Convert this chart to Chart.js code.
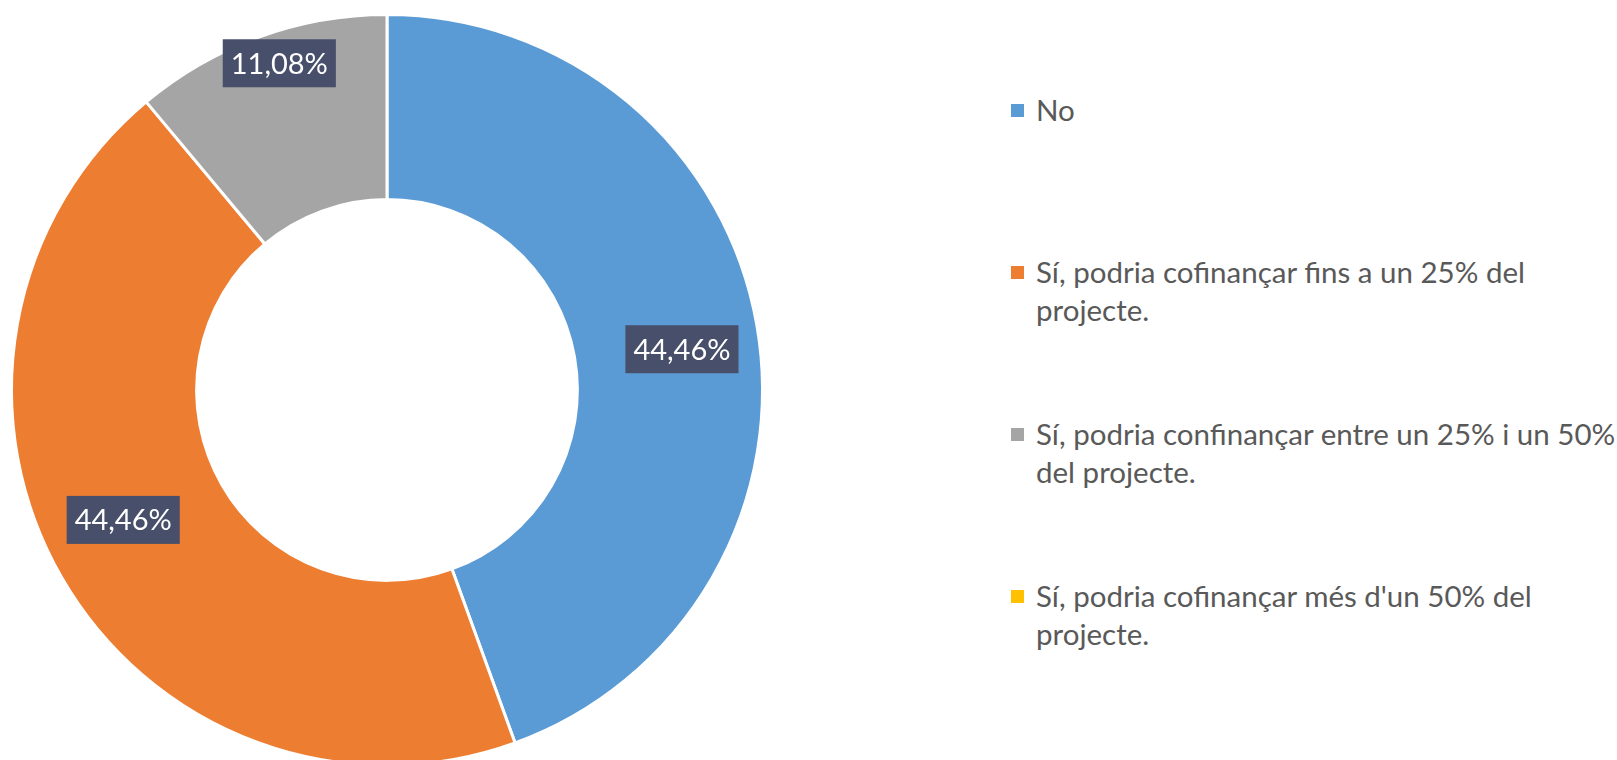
<!DOCTYPE html>
<html>
<head>
<meta charset="utf-8">
<script src="https://cdn.jsdelivr.net/npm/chart.js@4.4.1/dist/chart.umd.min.js"></script>
<style>
  html, body { margin: 0; padding: 0; background: #fff; overflow: hidden; }
  body { width: 1617px; height: 760px; position: relative; }
  #wrap { position: absolute; left: 0; top: 0; width: 774px; height: 780px; }
  #legend { position: absolute; left: 1011px; top: 91px; font-family: Lato, sans-serif; font-size: 29.5px; color: #595959; }
  .item { position: relative; height: 162px; padding-left: 25px; line-height: 38px; white-space: nowrap; }
  .box { position: absolute; left: 0; top: 12.5px; width: 13px; height: 13px; }
</style>
</head>
<body>
<div id="wrap"><canvas id="donut"></canvas></div>
<div id="legend"></div>
<script>
const labels = [
  ["No"],
  ["Sí, podria cofinançar fins a un 25% del", "projecte."],
  ["Sí, podria confinançar entre un 25% i un 50%", "del projecte."],
  ["Sí, podria cofinançar més d'un 50% del", "projecte."]
];
const values = [44.46, 44.46, 11.08, 0];
const colors = ["#5B9BD5", "#ED7D31", "#A5A5A5", "#FFC000"];

// label placement inside each slice: depth into the ring (0 inner, 1 outer)
// and a small turn (degrees) away from the slice middle
const labelDepth = [0.58, 0.56, 0.83, 0.6];
const labelTurn = [2.1, 3.7, 1.7, 0];

const valueLabels = {
  id: "valueLabels",
  afterDatasetsDraw(chart) {
    const ctx = chart.ctx;
    const meta = chart.getDatasetMeta(0);
    ctx.save();
    ctx.font = "29px Lato, sans-serif";
    ctx.textAlign = "center";
    ctx.textBaseline = "middle";
    meta.data.forEach((arc, i) => {
      const v = values[i];
      if (!v) return;
      const p = arc.getProps(["x", "y", "startAngle", "endAngle", "innerRadius", "outerRadius"], true);
      const mid = (p.startAngle + p.endAngle) / 2 + labelTurn[i] * Math.PI / 180;
      const r = p.innerRadius + (p.outerRadius - p.innerRadius) * labelDepth[i];
      const x = p.x + Math.cos(mid) * r;
      const y = p.y + Math.sin(mid) * r;
      const text = v.toFixed(2).replace(".", ",") + "%";
      const w = ctx.measureText(text).width + 16;
      const h = 48;
      ctx.fillStyle = "#484F6A";
      ctx.fillRect(x - w / 2, y - h / 2, w, h);
      ctx.fillStyle = "#ffffff";
      ctx.fillText(text, x, y + 1);
    });
    ctx.restore();
  }
};

const chart = new Chart(document.getElementById("donut"), {
  type: "doughnut",
  data: {
    labels: labels,
    datasets: [
      {
        data: values,
        backgroundColor: colors,
        borderColor: "#ffffff",
        borderWidth: 3
      }
    ]
  },
  options: {
    animation: false,
    responsive: true,
    maintainAspectRatio: false,
    cutout: "50.7%",
    layout: {
      padding: { left: 10, right: 10, top: 13, bottom: 13 }
    },
    plugins: {
      legend: { display: false },
      tooltip: { enabled: false }
    }
  },
  plugins: [valueLabels]
});

// legend on the right, built from the same labels and colours
const legendEl = document.getElementById("legend");
labels.forEach((lines, i) => {
  const item = document.createElement("div");
  item.className = "item";
  const box = document.createElement("span");
  box.className = "box";
  box.style.background = colors[i];
  item.appendChild(box);
  lines.forEach((line, j) => {
    if (j > 0) item.appendChild(document.createElement("br"));
    item.appendChild(document.createTextNode(line));
  });
  legendEl.appendChild(item);
});
</script>
</body>
</html>
